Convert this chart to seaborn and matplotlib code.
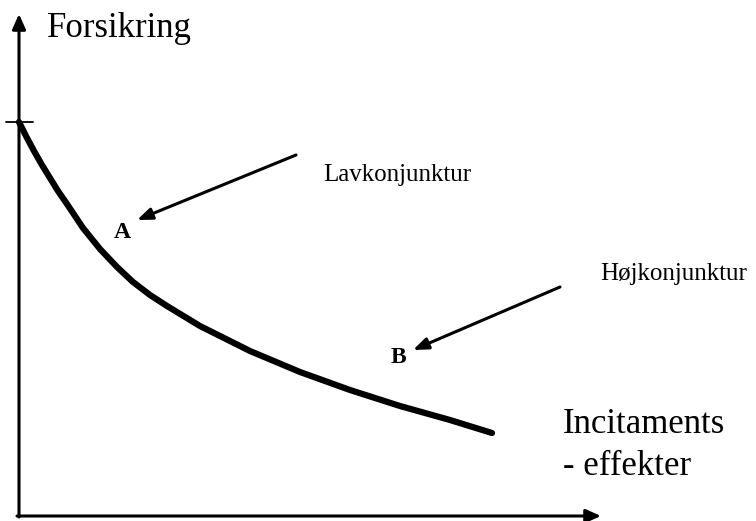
import matplotlib.pyplot as plt
import seaborn as sns

# curve (pixel-like units, y grows downward)
curve_x = [19, 26, 34, 42, 50, 58, 67, 83, 100, 117, 133, 150, 167, 200, 250,
           300, 350, 400, 450, 492]
curve_y = [122, 136, 151, 165, 178, 191, 204, 228, 249, 267, 282, 295, 306,
           326, 351, 372, 390, 406, 420, 433]

y_label = 'Forsikring'
x_label = ['Incitaments', '- effekter']
labels = ['Lavkonjunktur', 'Højkonjunktur']
points = ['A', 'B']

sns.set_style('white')
plt.rcParams['font.family'] = ['Liberation Serif', 'DejaVu Serif']
plt.rcParams['text.color'] = 'black'

fig = plt.figure(figsize=(7.56, 5.21), dpi=100)
ax = fig.add_axes([0, 0, 1, 1])
ax.set_xlim(0, 756)
ax.set_ylim(521, 0)
ax.axis('off')

# axes with arrowheads
ax.annotate('', xy=(19, 14), xytext=(19, 517),
            arrowprops=dict(arrowstyle='-|>,head_length=0.9,head_width=0.4',
                            color='black', lw=2.2, shrinkA=0, shrinkB=0))
ax.annotate('', xy=(601, 516), xytext=(17, 516),
            arrowprops=dict(arrowstyle='-|>,head_length=0.9,head_width=0.4',
                            color='black', lw=2.2, shrinkA=0, shrinkB=0))
ax.plot([6, 33], [122, 122], color='black', lw=1.3)

sns.lineplot(x=curve_x, y=curve_y, sort=False, estimator=None, ax=ax,
             color='black', lw=4.5, solid_capstyle='round',
             solid_joinstyle='round')

ax.text(47, 37, y_label, fontsize=25, va='baseline', ha='left', color='black')
ax.text(563, 433, x_label[0], fontsize=25, va='baseline', ha='left', color='black')
ax.text(563, 475, x_label[1], fontsize=25, va='baseline', ha='left', color='black')

ax.text(323, 181, labels[0], fontsize=18, va='baseline', ha='left', color='black')
ax.text(600, 280, labels[1], fontsize=18, va='baseline', ha='left', color='black')

ax.text(122, 238, points[0], fontsize=17, fontweight='bold', va='baseline',
        ha='center', color='black')
ax.text(398, 363, points[1], fontsize=17, fontweight='bold', va='baseline',
        ha='center', color='black')

arrow = dict(arrowstyle='-|>,head_length=0.9,head_width=0.35', color='black',
             lw=2.2, shrinkA=0, shrinkB=0)
ax.annotate('', xy=(137, 220), xytext=(296, 155), arrowprops=arrow)
ax.annotate('', xy=(413, 350), xytext=(560, 287), arrowprops=arrow)

fig.savefig('out.png', dpi=100)
